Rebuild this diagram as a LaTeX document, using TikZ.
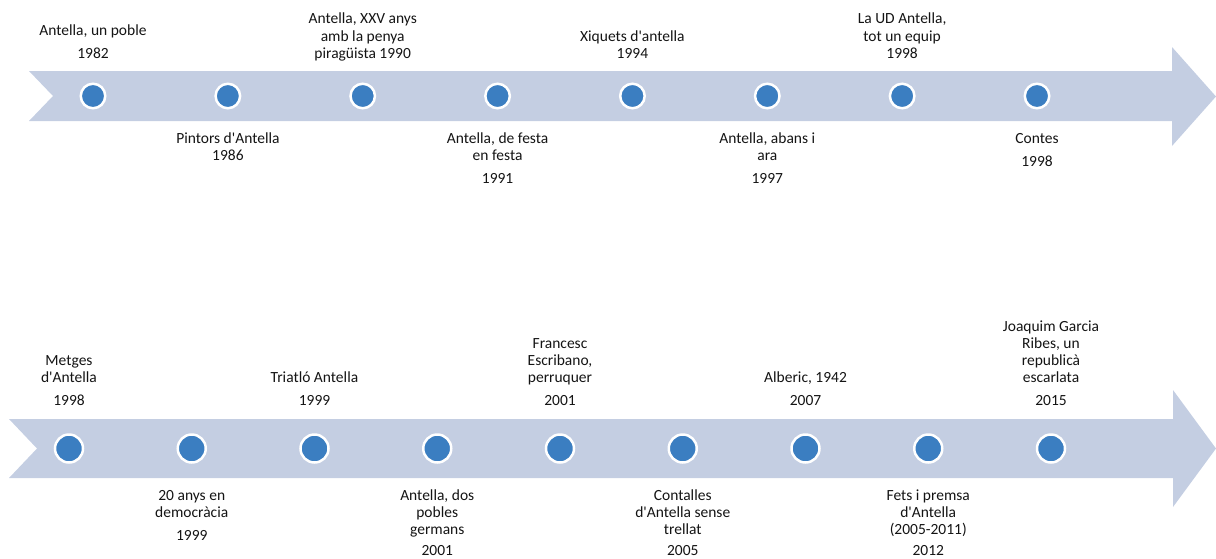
\documentclass[tikz,border=0pt]{standalone}
\usepackage{fontspec}
\setmainfont{Carlito}[Ligatures=TeXOff]
\definecolor{band}{RGB}{196,206,226}
\definecolor{dot}{RGB}{59,126,193}
\definecolor{ink}{RGB}{20,20,20}
\begin{document}
\begin{tikzpicture}[x=1pt,y=-1pt,
  lbl/.style={font=\fontsize{15.5}{17}\selectfont, anchor=base, inner sep=0pt, text=ink},
  dotA/.style={circle, fill=dot, draw=white, line width=2.5pt, minimum size=24.5pt, inner sep=0pt},
  dotB/.style={circle, fill=dot, draw=white, line width=2.5pt, minimum size=28pt, inner sep=0pt}]
\useasboundingbox (0,0) rectangle (1216,558);
% bands
\fill[band] (29,71) -- (1172,71) -- (1172,47) -- (1216,96.5) -- (1172,146) -- (1172,121) -- (29,121) -- (53,96) -- cycle;
\fill[band] (9,419) -- (1173,419) -- (1173,390) -- (1216,448.5) -- (1173,507) -- (1173,478) -- (9,478) -- (37,448.5) -- cycle;
% top dots
\foreach \i [count=\k from 0] in {1,...,8} {
  \node[dotA] (c\i) at ({93+134.86*\k},96) {};
}
% bottom dots
\foreach \i [count=\k from 0] in {1,...,9} {
  \node[dotB] (d\i) at ({69+122.75*\k},448.5) {};
}
% top labels
\node[lbl] (a1a) at (93,35) {Antella, un poble};
\node[lbl] (a1b) at (93,58) {1982};
\node[lbl] (a2a) at (227.9,143) {Pintors d'Antella};
\node[lbl] (a2b) at (227.9,160) {1986};
\node[lbl] (a3a) at (362.7,23) {Antella, XXV anys};
\node[lbl] (a3b) at (362.7,41) {amb la penya};
\node[lbl] (a3c) at (362.7,58) {piragüista 1990};
\node[lbl] (a4a) at (497.6,143) {Antella, de festa};
\node[lbl] (a4b) at (497.6,160) {en festa};
\node[lbl] (a4c) at (497.6,183) {1991};
\node[lbl] (a5a) at (632.4,41) {Xiquets d'antella};
\node[lbl] (a5b) at (632.4,58) {1994};
\node[lbl] (a6a) at (767.3,143) {Antella, abans i};
\node[lbl] (a6b) at (767.3,160) {ara};
\node[lbl] (a6c) at (767.3,183) {1997};
\node[lbl] (a7a) at (902.1,23) {La UD Antella,};
\node[lbl] (a7b) at (902.1,41) {tot un equip};
\node[lbl] (a7c) at (902.1,58) {1998};
\node[lbl] (a8a) at (1037,143) {Contes};
\node[lbl] (a8b) at (1037,166) {1998};
% bottom labels
\node[lbl] (b1a) at (69,365) {Metges};
\node[lbl] (b1b) at (69,382) {d'Antella};
\node[lbl] (b1c) at (69,405) {1998};
\node[lbl] (b2a) at (191.75,500) {20 anys en};
\node[lbl] (b2b) at (191.75,517) {democràcia};
\node[lbl] (b2c) at (191.75,540) {1999};
\node[lbl] (b3a) at (314.5,382) {Triatló Antella};
\node[lbl] (b3b) at (314.5,405) {1999};
\node[lbl] (b4a) at (437.25,500) {Antella, dos};
\node[lbl] (b4b) at (437.25,517) {pobles};
\node[lbl] (b4c) at (437.25,534) {germans};
\node[lbl] (b4d) at (437.25,555) {2001};
\node[lbl] (b5a) at (560,348) {Francesc};
\node[lbl] (b5b) at (560,365) {Escribano,};
\node[lbl] (b5c) at (560,382) {perruquer};
\node[lbl] (b5d) at (560,405) {2001};
\node[lbl] (b6a) at (682.75,500) {Contalles};
\node[lbl] (b6b) at (682.75,517) {d'Antella sense};
\node[lbl] (b6c) at (682.75,534) {trellat};
\node[lbl] (b6d) at (682.75,555) {2005};
\node[lbl] (b7a) at (805.5,382) {Alberic, 1942};
\node[lbl] (b7b) at (805.5,405) {2007};
\node[lbl] (b8a) at (928.25,500) {Fets i premsa};
\node[lbl] (b8b) at (928.25,517) {d'Antella};
\node[lbl] (b8c) at (928.25,534) {(2005-2011)};
\node[lbl] (b8d) at (928.25,555) {2012};
\node[lbl] (b9a) at (1051,331) {Joaquim Garcia};
\node[lbl] (b9b) at (1051,348) {Ribes, un};
\node[lbl] (b9c) at (1051,365) {republicà};
\node[lbl] (b9d) at (1051,382) {escarlata};
\node[lbl] (b9e) at (1051,405) {2015};
\end{tikzpicture}
\end{document}
